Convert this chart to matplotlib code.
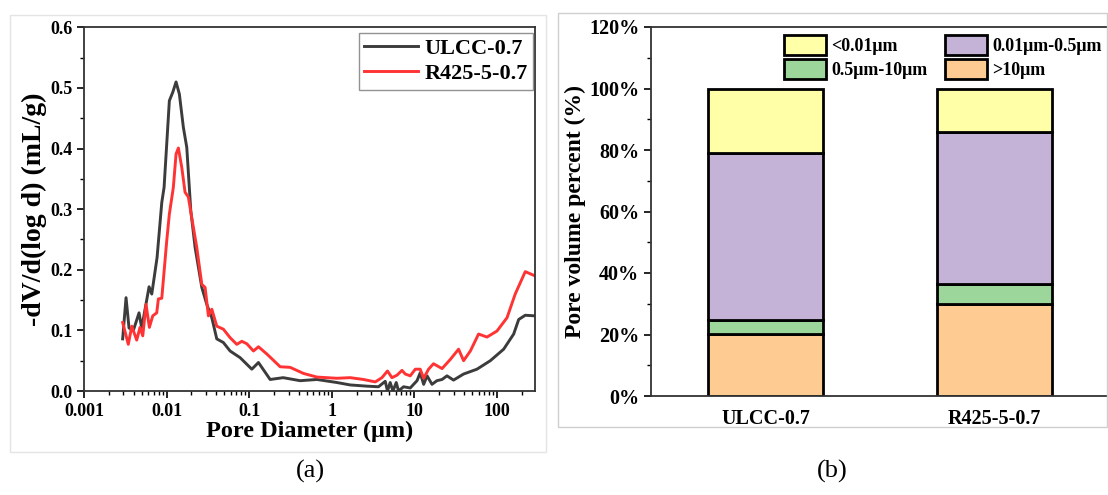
import matplotlib.pyplot as plt
import numpy as np
from matplotlib.patches import Rectangle, Patch
from matplotlib.ticker import FixedLocator, MultipleLocator, LogLocator, NullFormatter

plt.rcParams['font.family'] = ['Liberation Serif', 'DejaVu Serif']
plt.rcParams['font.weight'] = 'bold'
plt.rcParams['axes.labelweight'] = 'bold'

# (a) pore size distribution, pore diameter in um vs -dV/d(log d) in mL/g
ulcc_d = [0.00294, 0.00323, 0.00351, 0.00396, 0.00464, 0.00500, 0.00614, 0.00662,
          0.00767, 0.00875, 0.00933, 0.01081, 0.01189, 0.01303, 0.01429, 0.01598,
          0.01757, 0.01964, 0.02215, 0.02671, 0.03070, 0.03531, 0.04055, 0.04875,
          0.05883, 0.07780, 0.1078, 0.1297, 0.1797, 0.2584, 0.4150, 0.662,
          1.156, 1.675, 2.670, 3.69, 4.45, 4.74, 5.11, 5.52,
          6.05, 6.45, 7.42, 8.94, 10.8, 11.8, 13.0, 14.3,
          16.4, 18.8, 21.7, 24.9, 29.9, 39.6, 57.5, 83.4,
          121.0, 160.0, 184.0, 221.0, 290.0]
ulcc_v = [0.086, 0.154, 0.104, 0.100, 0.129, 0.104, 0.172, 0.160,
          0.220, 0.311, 0.336, 0.479, 0.493, 0.510, 0.490, 0.435,
          0.402, 0.298, 0.237, 0.171, 0.143, 0.121, 0.086, 0.080,
          0.066, 0.055, 0.036, 0.047, 0.019, 0.022, 0.017, 0.019,
          0.014, 0.010, 0.008, 0.007, 0.016, 0.000, 0.014, 0.000,
          0.014, 0.000, 0.007, 0.005, 0.017, 0.030, 0.011, 0.025,
          0.011, 0.017, 0.019, 0.025, 0.018, 0.028, 0.036, 0.050,
          0.069, 0.094, 0.118, 0.125, 0.124]

r425_d = [0.00294, 0.00344, 0.00379, 0.00435, 0.00477, 0.00515, 0.00564, 0.00619,
          0.00680, 0.00760, 0.00796, 0.00875, 0.01005, 0.01081, 0.01208, 0.01303,
          0.01390, 0.01528, 0.01675, 0.01837, 0.02018, 0.02321, 0.02671, 0.02929,
          0.03212, 0.03531, 0.04055, 0.04875, 0.05883, 0.0709, 0.0816, 0.0938,
          0.1128, 0.1297, 0.1640, 0.2377, 0.3141, 0.455, 0.662, 1.156,
          1.675, 2.43, 3.37, 4.06, 4.74, 5.37, 6.17, 7.10,
          7.78, 8.94, 10.3, 11.8, 13.0, 14.9, 17.1, 21.7,
          27.3, 34.4, 39.6, 47.8, 60.1, 76.0, 100.5, 133.0,
          167.0, 221.0, 290.0]
r425_v = [0.113, 0.077, 0.107, 0.084, 0.105, 0.091, 0.143, 0.105,
          0.124, 0.129, 0.152, 0.153, 0.248, 0.292, 0.336, 0.391,
          0.401, 0.369, 0.328, 0.320, 0.286, 0.237, 0.176, 0.171,
          0.124, 0.135, 0.107, 0.102, 0.088, 0.077, 0.082, 0.078,
          0.066, 0.073, 0.061, 0.040, 0.039, 0.029, 0.023, 0.021,
          0.022, 0.019, 0.015, 0.022, 0.033, 0.022, 0.026, 0.034,
          0.028, 0.025, 0.036, 0.036, 0.021, 0.036, 0.045, 0.037,
          0.052, 0.069, 0.050, 0.066, 0.094, 0.089, 0.099, 0.121,
          0.160, 0.197, 0.190]

# (b) pore volume fractions (%) by size range
samples = ['ULCC-0.7', 'R425-5-0.7']
size_ranges = ['<0.01\u03bcm', '0.01\u03bcm-0.5\u03bcm', '0.5\u03bcm-10\u03bcm', '>10\u03bcm']
gt10 = [20.2, 29.8]
mid_small = [4.4, 6.6]      # 0.5-10 um
mid_large = [54.5, 49.6]    # 0.01-0.5 um
lt001 = [20.9, 14.0]

col_lt001 = '#ffffa8'
col_mid_large = '#c4b3d6'
col_mid_small = '#9dd69b'
col_gt10 = '#fecc92'

W, H = 1108, 495
fig = plt.figure(figsize=(W / 100, H / 100), dpi=100)

# light frames around each panel
fig.add_artist(Rectangle((10 / W, 1 - 452 / H), 536 / W, 437 / H, transform=fig.transFigure,
                         fill=False, ec='#e4e4e4', lw=1))
fig.add_artist(Rectangle((558 / W, 1 - 427 / H), 549 / W, 414 / H, transform=fig.transFigure,
                         fill=False, ec='#cfcfcf', lw=1))

# ---- panel (a)
ax1 = fig.add_axes([84 / W, 1 - 391 / H, 451 / W, 363.6 / H])
ax1.plot(ulcc_d, ulcc_v, color='#3c3c3c', lw=2.1, label='ULCC-0.7')
ax1.plot(r425_d, r425_v, color='#ff3333', lw=2.1, label='R425-5-0.7')
ax1.set_xscale('log')
ax1.set_xlim(0.001, 290)
ax1.set_ylim(0, 0.6)
ax1.xaxis.set_major_locator(FixedLocator([0.001, 0.01, 0.1, 1, 10, 100]))
ax1.set_xticklabels(['0.001', '0.01', '0.1', '1', '10', '100'])
ax1.xaxis.set_minor_locator(LogLocator(base=10, subs=np.arange(2, 10)))
ax1.xaxis.set_minor_formatter(NullFormatter())
ax1.yaxis.set_major_locator(MultipleLocator(0.1))
ax1.yaxis.set_minor_locator(MultipleLocator(0.05))
ax1.yaxis.set_major_formatter(lambda v, p: f'{v:.1f}')
ax1.tick_params(which='major', length=5, width=1.2, labelsize=13, direction='out')
ax1.tick_params(which='minor', length=3, width=1.0, direction='out')
for s in ax1.spines.values():
    s.set_linewidth(1.3)
    s.set_color('#333333')
ax1.set_xlabel('Pore Diameter (\u03bcm)', fontsize=17.5, labelpad=1)
ax1.set_ylabel('-dV/d(log d) (mL/g)', fontsize=20, labelpad=2)
leg1 = ax1.legend(loc='upper right', bbox_to_anchor=((533 - 84) / 451, (391 - 33) / 363.6),
                  fontsize=16, frameon=True, fancybox=False,
                  edgecolor='#777777', handlelength=2.4, handletextpad=0.3,
                  borderpad=0.25, labelspacing=0.2, borderaxespad=0)
leg1.get_frame().set_linewidth(1.0)

# ---- panel (b)
ax2 = fig.add_axes([651 / W, 1 - 396 / H, 458 / W, 369 / H])
x = np.arange(len(samples))
bw = 0.5
kw = dict(width=bw, edgecolor='black', linewidth=2.0)
ax2.bar(x, gt10, color=col_gt10, **kw)
ax2.bar(x, mid_small, bottom=gt10, color=col_mid_small, **kw)
base3 = np.add(gt10, mid_small)
ax2.bar(x, mid_large, bottom=base3, color=col_mid_large, **kw)
base4 = base3 + np.array(mid_large)
ax2.bar(x, lt001, bottom=base4, color=col_lt001, **kw)
ax2.set_xlim(-0.5, 1.5)
ax2.set_ylim(0, 120)
ax2.set_xticks(x)
ax2.set_xticklabels(samples)
ax2.yaxis.set_major_locator(MultipleLocator(20))
ax2.yaxis.set_minor_locator(MultipleLocator(10))
ax2.yaxis.set_major_formatter(lambda v, p: f'{v:.0f}%')
ax2.tick_params(axis='y', which='major', length=5, width=1.2, labelsize=14.5)
ax2.tick_params(axis='y', which='minor', length=3, width=1.0)
ax2.tick_params(axis='x', length=0, labelsize=14.5, pad=9)
for s in ax2.spines.values():
    s.set_linewidth(1.3)
    s.set_color('#333333')
ax2.set_ylabel('Pore volume percent (%)', fontsize=17, labelpad=2)
handles = [Patch(facecolor=c, edgecolor='black', linewidth=2.0)
           for c in (col_lt001, col_mid_small, col_mid_large, col_gt10)]
labels = [size_ranges[0], size_ranges[2], size_ranges[1], size_ranges[3]]
ax2.legend(handles, labels, ncol=2, loc='upper left',
           bbox_to_anchor=((775 - 651) / 458, (396 - 26) / 369),
           frameon=False, fontsize=13, handlelength=2.3, handleheight=1.3,
           handletextpad=0.3, columnspacing=1.0, labelspacing=0.25, borderpad=0)

# panel letters
fig.text(310 / W, 1 - 471 / H, '(a)', ha='center', va='center', fontsize=19, fontweight='normal')
fig.text(832 / W, 1 - 471 / H, '(b)', ha='center', va='center', fontsize=19, fontweight='normal')

fig.savefig('out.png', dpi=100)
